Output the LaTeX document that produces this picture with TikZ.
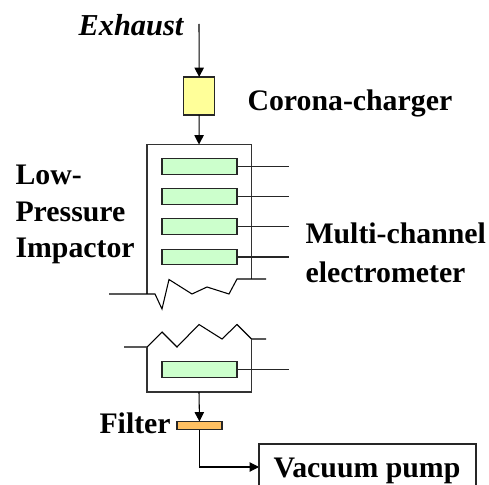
\documentclass[tikz,border=0pt]{standalone}
\usepackage{fontspec}
\setmainfont{Liberation Serif}
\usetikzlibrary{arrows.meta}
\definecolor{yel}{HTML}{FFFF99}
\definecolor{grn}{HTML}{CCFFCC}
\definecolor{org}{HTML}{FFC062}
\tikzset{
  every path/.style={line width=0.8pt},
  lab/.style={font=\fontsize{22.35}{26}\selectfont\bfseries, inner sep=0pt, anchor=base west},
  box/.style={draw=black!85, inner sep=0pt, outer sep=0pt},
  plate/.style={box, fill=grn, minimum width=56.25pt, minimum height=11.4pt},
  lead/.style={draw=black!85},
  wall/.style={draw=black!80},
  flow/.style={draw=black, -{Triangle[length=7pt,width=7pt]}, shorten >=0pt},
}
\begin{document}
\begin{tikzpicture}[x=0.75pt,y=-0.75pt]
\useasboundingbox (0,0) rectangle (489,485);
% free ends
\coordinate (in) at (199,24);
\coordinate (chtop) at (199,144.5);
\coordinate (chbot) at (199,392);
\coordinate (vac) at (259,467);
\coordinate (e1) at (289,166.5);
\coordinate (e2) at (289,196.5);
\coordinate (e3) at (289,226.5);
\coordinate (e4) at (289,257);
\coordinate (e5) at (289,369.5);
% boxes
\node[box, fill=yel, minimum width=22.9pt, minimum height=28.5pt] (charger) at (199.2,96) {};
\node[plate] (p1) at (199.5,166.5) {};
\node[plate] (p2) at (199.5,196.5) {};
\node[plate] (p3) at (199.5,226.5) {};
\node[plate] (p4) at (199.5,257) {};
\node[plate] (p5) at (199.5,369.5) {};
\node[box, fill=org, minimum width=33.75pt, minimum height=6pt] (filter) at (199.5,425.5) {};
% chamber upper
\draw[wall] (147,294) -- (147,144.5) -- (251.5,144.5) -- (251.5,279);
\draw[line join=miter] (109,294) -- (155,294) -- (162,309) -- (169,279.5) -- (192,294) -- (207,287) -- (229,294) -- (237,279) -- (266,279);
% chamber lower
\draw (124,347) -- (147,347) -- (162,332) -- (177,347) -- (199,324.5) -- (222,339) -- (237,324.5) -- (251.5,339) -- (266,339);
\draw[wall] (147,347) -- (147,392) -- (251.5,392) -- (251.5,339);
% leads
\foreach \i in {1,...,5} \draw[lead] (p\i.east) -- (e\i);
% flow
\draw[flow] (in) -- (charger.north);
\draw[flow] (charger.south) -- (chtop);
\draw[flow] (chbot) -- (filter.north);
\draw[flow] (filter.south) |- (vac);
% pump
\draw[box] (259,485) -- (259,444) -- (476,444) -- (476,485);
% labels
\node[lab, font=\fontsize{22.8}{26}\selectfont\bfseries\itshape] (exh) at (78,36) {Exhaust};
\node[lab] (cor) at (247,110) {Corona-charger};
\node[lab] (l1) at (15,184) {Low-};
\node[lab] (l2) at (15,221) {Pressure};
\node[lab] (l3) at (15,257) {Impactor};
\node[lab] (m1) at (305,243) {Multi-channel};
\node[lab] (m2) at (305,282) {electrometer};
\node[lab] (fl) at (99,433) {Filter};
\node[lab] (vp) at (273,477) {Vacuum pump};
\end{tikzpicture}
\end{document}
